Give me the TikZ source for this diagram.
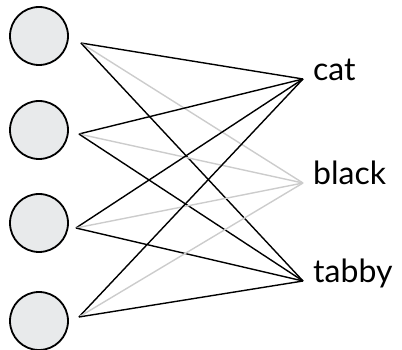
\documentclass[tikz,border=0pt]{standalone}
\usepackage{fontspec}
\setmainfont{Lato}
\definecolor{unitFill}{HTML}{E8EAEB}
\definecolor{weakLine}{HTML}{CCCCCC}
\newcommand{\wordSize}[0]{%
      \fontsize{32}{38}\selectfont
    }

\begin{document}
\begin{tikzpicture}[x=1pt,y=-1pt]
      \useasboundingbox (0,0) rectangle (402,350);

      \node[shape=circle,draw=black,line width=1.8pt,fill=unitFill,minimum size=58pt,inner sep=0pt] (U1) at (39,36) {};
      \node[shape=circle,draw=black,line width=1.8pt,fill=unitFill,minimum size=58pt,inner sep=0pt] (U2) at (39,130) {};
      \node[shape=circle,draw=black,line width=1.8pt,fill=unitFill,minimum size=58pt,inner sep=0pt] (U3) at (39,223) {};
      \node[shape=circle,draw=black,line width=1.8pt,fill=unitFill,minimum size=58pt,inner sep=0pt] (U4) at (39,321) {};

      \coordinate (P1) at ([shift={(12pt,-7pt)}]U1.east);
      \coordinate (P2) at ([shift={(10pt,-4pt)}]U2.east);
      \coordinate (P3) at ([shift={(7pt,-5pt)}]U3.east);
      \coordinate (P4) at ([shift={(10pt,4pt)}]U4.east);

      \node[anchor=base west,inner xsep=10pt,inner ysep=0pt] (Cat) at (303,81) {\wordSize cat};
      \node[anchor=base west,inner xsep=10pt,inner ysep=0pt] (Black) at (303,185) {\wordSize black};
      \node[anchor=base west,inner xsep=10pt,inner ysep=0pt] (Tabby) at (303,283) {\wordSize tabby};

      \draw[line width=1.4pt,black] (P1) -- ([yshift=2pt]Cat.base west);
      \draw[line width=1.4pt,weakLine] (P1) -- ([yshift=2pt]Black.base west);
      \draw[line width=1.4pt,black] (P1) -- ([yshift=2pt]Tabby.base west);

      \draw[line width=1.4pt,black] (P2) -- ([yshift=2pt]Cat.base west);
      \draw[line width=1.4pt,weakLine] (P2) -- ([yshift=2pt]Black.base west);
      \draw[line width=1.4pt,black] (P2) -- ([yshift=2pt]Tabby.base west);

      \draw[line width=1.4pt,black] (P3) -- ([yshift=2pt]Cat.base west);
      \draw[line width=1.4pt,weakLine] (P3) -- ([yshift=2pt]Black.base west);
      \draw[line width=1.4pt,black] (P3) -- ([yshift=2pt]Tabby.base west);

      \draw[line width=1.4pt,black] (P4) -- ([yshift=2pt]Cat.base west);
      \draw[line width=1.4pt,weakLine] (P4) -- ([yshift=2pt]Black.base west);
      \draw[line width=1.4pt,black] (P4) -- ([yshift=2pt]Tabby.base west);
  \end{tikzpicture}
\end{document}
